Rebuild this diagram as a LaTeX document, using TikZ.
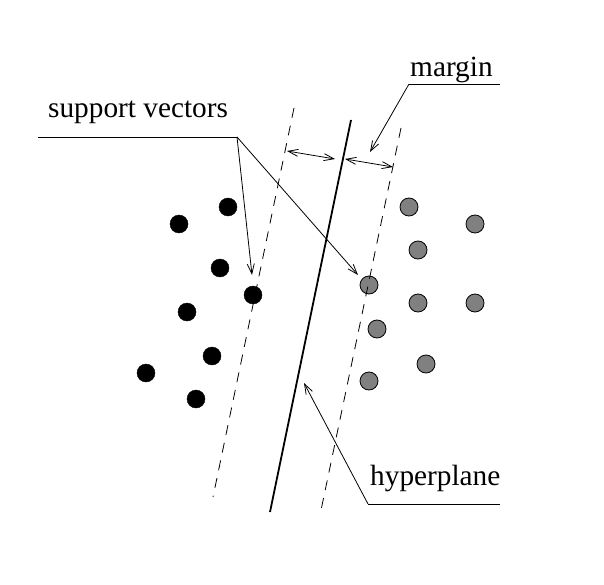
\documentclass[tikz,border=0pt]{standalone}
\usepackage{fontspec}
\setmainfont{Liberation Serif}
\usetikzlibrary{arrows.meta}
\begin{document}
\begin{tikzpicture}[x=1pt,y=-1pt,
  blackdot/.style={circle,fill=black,draw=black,minimum size=18pt,inner sep=0pt},
  graydot/.style={circle,fill=black!50,draw=black,line width=0.8pt,minimum size=18pt,inner sep=0pt},
  lbl/.style={font=\fontsize{29.3}{32}\selectfont,inner sep=0pt,anchor=base west},
  dashline/.style={dash pattern=on 10pt off 8pt,line width=0.8pt},
  pointer/.style={line width=0.8pt,-{Straight Barb[length=10pt,width=7pt,line width=0.8pt]}},
  dblarrow/.style={line width=0.8pt,{Straight Barb[length=10pt,width=7pt,line width=0.8pt]}-{Straight Barb[length=10pt,width=7pt,line width=0.8pt]}}]
\useasboundingbox (0,0) rectangle (604,585);
% dots
\node[blackdot] (b1) at (179,224) {};
\node[blackdot] (b2) at (228,207) {};
\node[blackdot] (b3) at (220,268) {};
\node[blackdot] (b4) at (253,295) {};
\node[blackdot] (b5) at (187,312) {};
\node[blackdot] (b6) at (212,356) {};
\node[blackdot] (b7) at (146,373) {};
\node[blackdot] (b8) at (196,399) {};
\node[graydot] (g1) at (409,207) {};
\node[graydot] (g2) at (475,224) {};
\node[graydot] (g3) at (418,250) {};
\node[graydot] (g4) at (369,285) {};
\node[graydot] (g5) at (418,303) {};
\node[graydot] (g6) at (475,303) {};
\node[graydot] (g7) at (377,329) {};
\node[graydot] (g8) at (426,364) {};
\node[graydot] (g9) at (369,381) {};
% lines
\coordinate (hT) at (351,120); \coordinate (hB) at (270,512);
\coordinate (lT) at (294,108); \coordinate (lB) at (213,497);
\coordinate (rT) at (401,128); \coordinate (rB) at (320,515);
\draw[line width=1.8pt] (hT) -- (hB);
\draw[dashline] (lT) -- (lB);
\draw[dashline] (rT) -- (rB);
% margin arrows
\coordinate (m1a) at (287,151); \coordinate (m1b) at (335,159);
\coordinate (m2a) at (345,159); \coordinate (m2b) at (393,167);
\draw[dblarrow] (m1a) -- (m1b);
\draw[dblarrow] (m2a) -- (m2b);
% labels
\node[lbl] (margin) at (410,77) {margin};
\node[lbl] (sv) at (48,118) {support vectors};
\node[lbl] (hyp) at (370,485) {hyperplane};
\coordinate (mu1) at (409,84); \coordinate (mu2) at (500,84);
\coordinate (su1) at (38,137); \coordinate (su2) at (237,137);
\coordinate (hu1) at (368,504); \coordinate (hu2) at (500,504);
\draw[line width=0.8pt] (mu2) -- (mu1);
\draw[line width=0.8pt] (su1) -- (su2);
\draw[line width=0.8pt] (hu2) -- (hu1);
\draw[pointer] (mu1) -- (370,152);
\draw[pointer] (su2) -- (252,275);
\draw[pointer] (su2) -- (358,275);
\draw[pointer] (hu1) -- (304,383);
\end{tikzpicture}
\end{document}
